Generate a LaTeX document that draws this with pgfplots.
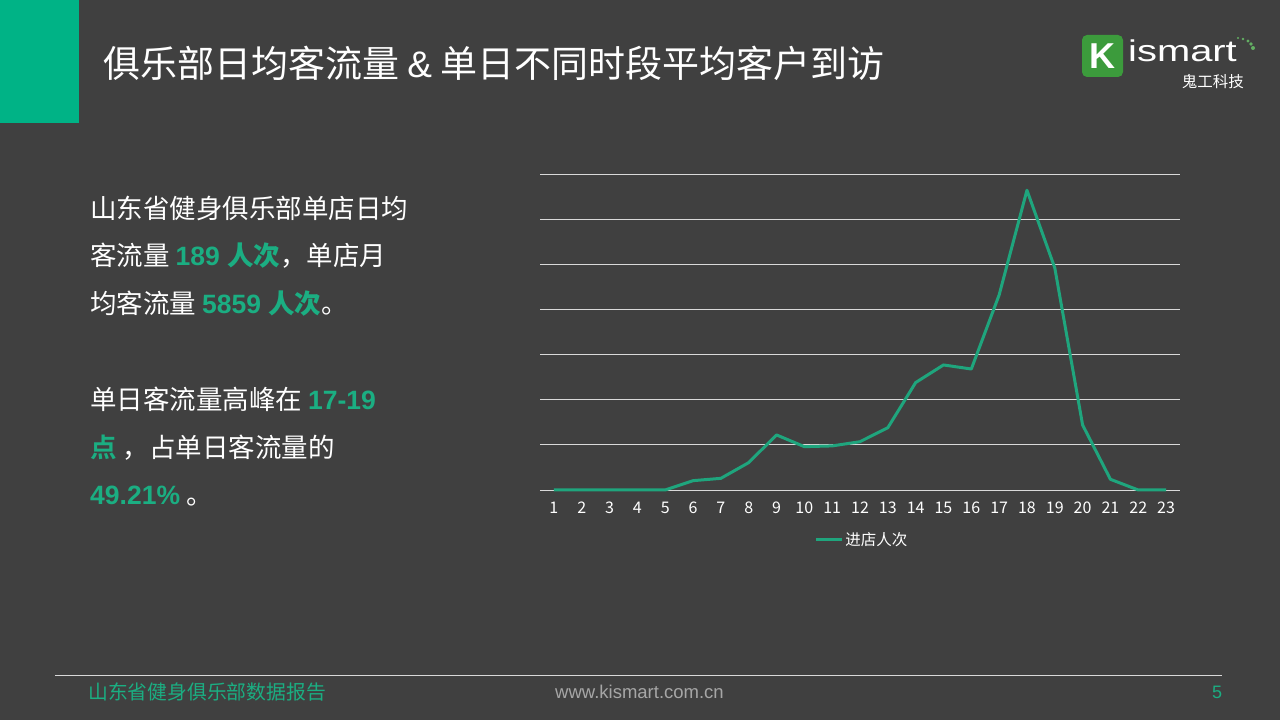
\documentclass[border=0pt]{standalone}
\usepackage{fontspec}
\usepackage{pgfplots}
\pgfplotsset{compat=1.18}
\setmainfont{Noto Sans CJK SC}
\newfontfamily\cjk{Noto Sans CJK SC}
\newfontfamily\cjkb{Noto Sans CJK SC Bold}
\newfontfamily\lat{Liberation Sans}
\definecolor{bg}{HTML}{404040}
\definecolor{kgreen}{HTML}{00B386}
\definecolor{tgreen}{HTML}{1BAE82}
\definecolor{lgreen}{HTML}{1FA57D}
\definecolor{logogreen}{HTML}{3C9B3C}
\definecolor{gridc}{HTML}{D9D9D9}
\definecolor{urlc}{HTML}{A6A6A6}
\pgfplotstableread{
x y
1 0
2 0
3 0
4 0
5 0
6 1.24
7 1.55
8 3.64
9 7.32
10 5.76
11 5.86
12 6.42
13 8.28
14 14.28
15 16.62
16 16.08
17 25.92
18 39.84
19 29.52
20 8.64
21 1.42
22 0
23 0
}\visits
\begin{document}
\begin{tikzpicture}
\begin{scope}[x=1pt,y=1pt]
\fill[bg] (0,0) rectangle (1280,720);
\fill[kgreen] (0,720) rectangle (79,597);
% title
\node[anchor=base west,inner sep=0pt,text=white,font=\cjk\fontsize{37}{40}\selectfont] at (103,642) {俱乐部日均客流量 \lat\&\cjk{} 单日不同时段平均客户到访};
% logo
\fill[logogreen, rounded corners=5pt] (1082,643) rectangle (1123,685);
\node[text=white,font=\lat\bfseries\fontsize{36}{38}\selectfont,inner sep=0pt] at (1102.5,664) {K};
\node[anchor=base west,inner sep=0pt,text=white,font=\lat\fontsize{30}{30}\selectfont] at (1128,658) {\scalebox{1.33}[1]{ismart}};
\node[anchor=base east,inner sep=0pt,text=white,font=\cjk\fontsize{15.5}{16}\selectfont] at (1244,632) {鬼工科技};
\foreach \px/\py/\r in {1238/682/1.2,1243/681/1.4,1248/679/1.6,1251/676/1.8,1253/672/2.0}{\fill[logogreen!80!white] (\px,\py) circle (\r);}
% left text
\begin{scope}[every node/.style={anchor=base west,inner sep=0pt,text=white,font=\cjk\fontsize{26.5}{30}\selectfont}]
\node at (90,501) {山东省健身俱乐部单店日均};
\node at (90,454) {客流量 {\color{tgreen}\lat\bfseries 189 \cjkb 人次}，单店月};
\node at (90,406) {均客流量 {\color{tgreen}\lat\bfseries 5859 \cjkb 人次}。};
\node at (90,310) {单日客流量高峰在 {\color{tgreen}\lat\bfseries 17-19}};
\node at (90,262) {{\color{tgreen}\cjkb 点} ，占单日客流量的};
\node at (90,215) {{\color{tgreen}\lat\bfseries 49.21\%} 。};
\end{scope}
% footer
\draw[gridc, line width=1pt] (55,44) -- (1222,44);
\node[anchor=base west,inner sep=0pt,text=tgreen,font=\cjk\fontsize{19.8}{20}\selectfont] at (88,20) {山东省健身俱乐部数据报告};
\node[anchor=base west,inner sep=0pt,text=urlc,font=\lat\fontsize{18.5}{20}\selectfont] at (555,21) {www.kismart.com.cn};
\node[anchor=base west,inner sep=0pt,text=tgreen,font=\lat\fontsize{18}{20}\selectfont] at (1212,21) {5};
\end{scope}
% chart
\begin{axis}[
  at={(540pt,230pt)}, anchor=south west,
  width=640pt, height=316pt, scale only axis,
  xmin=0.5, xmax=23.5, ymin=0, ymax=42,
  axis line style={draw=none},
  ytick={0,6,...,42}, yticklabels={},
  ymajorgrids, grid style={gridc, line width=0.9pt},
  major tick length=0pt,
  xtick={1,...,23},
  /pgf/number format/assume math mode=true,
  xticklabel style={font=\cjk\fontsize{16}{17}\selectfont, text=white, anchor=center, yshift=-18pt},
  legend style={at={(0.503,-0.158)}, anchor=center, draw=none, fill=none, text=white,
    font=\cjk\fontsize{15.5}{16}\selectfont, inner sep=0pt},
  legend image code/.code={\draw[lgreen, line width=3pt] (0pt,0pt) -- (26pt,0pt);},
  clip=false,
]
\addplot[lgreen, line width=3pt, line join=round, mark=none] table[x=x,y=y] {\visits};
\addlegendentry{进店人次}
\end{axis}
\end{tikzpicture}
\end{document}
